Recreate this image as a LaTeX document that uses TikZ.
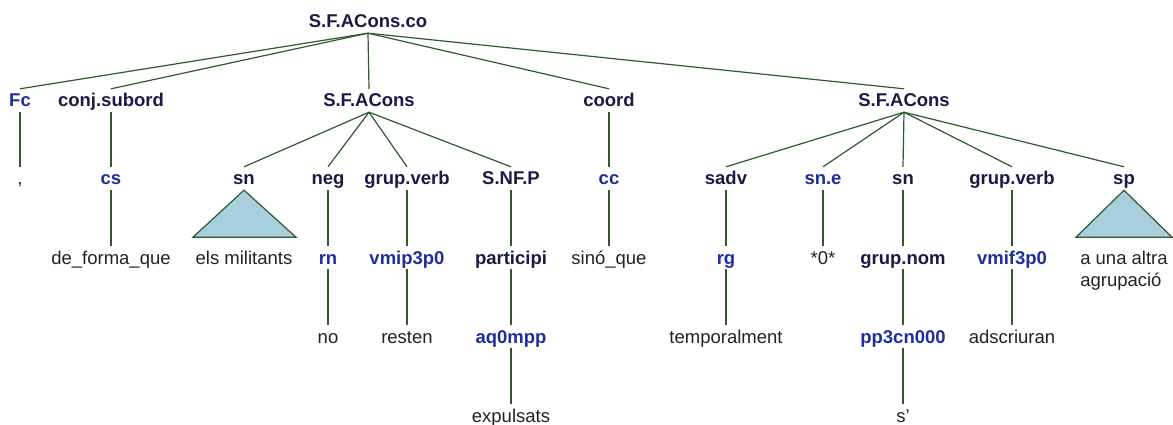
\documentclass[tikz,border=0pt]{standalone}
\usepackage{fontspec}
\setmainfont{Liberation Sans}
\definecolor{navy}{HTML}{1A1A44}
\definecolor{posblue}{HTML}{1F2E9E}
\definecolor{leafc}{HTML}{222222}
\definecolor{linec}{HTML}{2E5A2E}
\definecolor{trifill}{HTML}{A8CFDD}
\begin{document}
\begin{tikzpicture}[x=1pt,y=-1pt,
  basebox/.style={inner xsep=1pt, inner ysep=5pt, text height=13pt, text depth=0pt},
  lab/.style={basebox, font=\fontsize{18.5}{22}\selectfont\bfseries, text=navy},
  postag/.style={basebox, font=\fontsize{18.5}{22}\selectfont\bfseries, text=posblue},
  leaf/.style={basebox, font=\fontsize{18.5}{22}\selectfont, text=leafc},
  edge/.style={draw=linec, line width=1.2pt},
  tri/.style={draw=linec, fill=trifill, line width=1.2pt, line join=miter}]
\useasboundingbox (0,0) rectangle (1173,425);
% rows (centres): 21.5, 100.5, 178.5, 257.5, 336.5, 415.5
\node[lab] (root) at (368,21.5) {S.F.ACons.co};
\node[postag] (fc) at (20,100.5) {Fc};
\node[lab] (conj) at (111,100.5) {conj.subord};
\node[lab] (sfa1) at (369,100.5) {S.F.ACons};
\node[lab] (coord) at (609,100.5) {coord};
\node[lab] (sfa2) at (904,100.5) {S.F.ACons};
% row 2
\node[leaf] (comma) at (20,178.5) {,};
\node[postag] (cs) at (111,178.5) {cs};
\node[lab] (sn1) at (244,178.5) {sn};
\node[lab] (neg) at (328,178.5) {neg};
\node[lab] (gv1) at (407,178.5) {grup.verb};
\node[lab] (snfp) at (511,178.5) {S.NF.P};
\node[postag] (cc) at (609,178.5) {cc};
\node[lab] (sadv) at (726,178.5) {sadv};
\node[postag] (sne) at (823,178.5) {sn.e};
\node[lab] (sn2) at (903,178.5) {sn};
\node[lab] (gv2) at (1012,178.5) {grup.verb};
\node[lab] (sp) at (1124,178.5) {sp};
% row 3
\node[leaf] (deforma) at (111,257.5) {de\_forma\_que};
\node[leaf] (els) at (244,257.5) {els militants};
\node[postag] (rn) at (328,257.5) {rn};
\node[postag] (vmip) at (407,257.5) {vmip3p0};
\node[lab] (part) at (511,257.5) {participi};
\node[leaf] (sino) at (609,257.5) {sinó\_que};
\node[postag] (rg) at (726,257.5) {rg};
\node[leaf] (zero) at (823,257.5) {*0*};
\node[lab] (gnom) at (903,257.5) {grup.nom};
\node[postag] (vmif) at (1012,257.5) {vmif3p0};
\node[font=\fontsize{18.5}{22}\selectfont, text=leafc, align=left, anchor=north, inner xsep=1pt, inner ysep=5pt] (altra) at (1124,246) {a una altra\\agrupació};
% row 4
\node[leaf] (no) at (328,336.5) {no};
\node[leaf] (resten) at (407,336.5) {resten};
\node[postag] (aq) at (511,336.5) {aq0mpp};
\node[leaf] (temp) at (726,336.5) {temporalment};
\node[postag] (pp) at (903,336.5) {pp3cn000};
\node[leaf] (adsc) at (1012,336.5) {adscriuran};
% row 5
\node[leaf] (expul) at (511,415.5) {expulsats};
\node[leaf] (s) at (903,415.5) {s’};
% edges
\foreach \c in {fc,conj,sfa1,coord,sfa2} \draw[edge] (root.south) -- (\c.north);
\foreach \p/\c in {fc/comma,conj/cs,coord/cc,cs/deforma,cc/sino,
  neg/rn,gv1/vmip,snfp/part,rn/no,vmip/resten,part/aq,aq/expul,
  sadv/rg,sne/zero,sn2/gnom,gv2/vmif,rg/temp,gnom/pp,vmif/adsc,pp/s}
  \draw[edge] (\p.south) -- (\c.north);
\foreach \c in {sn1,neg,gv1,snfp} \draw[edge] (sfa1.south) -- (\c.north);
\foreach \c in {sadv,sne,sn2,gv2,sp} \draw[edge] (sfa2.south) -- (\c.north);
% triangles
\draw[tri] (sn1.south) -- ++(-51,47) -- ++(103,0) -- cycle;
\draw[tri] (sp.south) -- ++(-48,47) -- ++(96,0) -- cycle;
\end{tikzpicture}
\end{document}
